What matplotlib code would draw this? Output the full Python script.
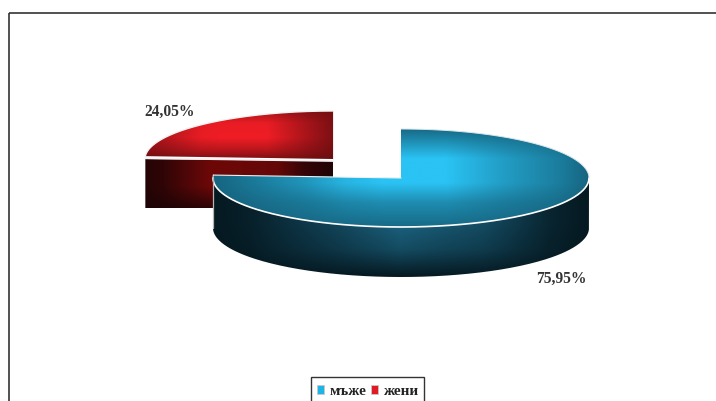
import numpy as np
import matplotlib
matplotlib.use('Agg')
import matplotlib.pyplot as plt
from matplotlib.patches import Patch, PathPatch, Rectangle
from matplotlib.path import Path

categories = ['мъже', 'жени']
shares = [75.95, 24.05]
label_text = ['75,95%', '24,05%']

legend_colors = ['#1FB4E6', '#E01B24']

W, H = 716, 401
RX, RY, DEPTH = 188, 49, 50

plt.rcParams['font.family'] = ['Liberation Serif', 'DejaVu Serif']

fig = plt.figure(figsize=(W / 100, H / 100), dpi=100)
ax = fig.add_axes([0, 0, 1, 1])
ax.set_xlim(0, W)
ax.set_ylim(H, 0)
ax.axis('off')


def rim(cx, cy, rx, ry, a0, a1, n=200):
    # angles in degrees, counter clockwise on screen
    t = np.radians(np.linspace(a0, a1, n))
    return np.column_stack([cx + rx * np.cos(t), cy - ry * np.sin(t)])


def shade(poly, dark, bright, xs, ys, zorder, low=0.0):
    # paint a gradient (across * along) and clip it to poly
    dark = np.array(matplotlib.colors.to_rgb(dark))
    bright = np.array(matplotlib.colors.to_rgb(bright))
    x0, y0 = poly.min(axis=0)
    x1, y1 = poly.max(axis=0)
    u = np.linspace(0, 1, 300)
    v = np.linspace(0, 1, 200)
    fx = np.interp(u, xs[0], xs[1])
    fy = np.interp(v, ys[0], ys[1])
    k = np.clip(np.outer(fy, fx), low, 1)[..., None]
    img = dark + (bright - dark) * k
    im = ax.imshow(img, extent=(x0, x1, y1, y0), origin='upper', aspect='auto',
                   zorder=zorder, interpolation='bilinear')
    clip = PathPatch(Path(np.vstack([poly, poly[:1]])), transform=ax.transData,
                     fc='none', ec='none')
    ax.add_patch(clip)
    im.set_clip_path(clip)


def outline(pts, zorder, lw=1.1, color='#f2f2f2'):
    ax.plot(pts[:, 0], pts[:, 1], color=color, lw=lw, zorder=zorder, solid_capstyle='round')


# slice angles come from the values, first slice starts at 12 o'clock and goes clockwise
sweep_blue = 360 * shares[0] / sum(shares)
end_blue = 90 - sweep_blue
sweep_red = 360 * shares[1] / sum(shares)

# ---- red slice, pulled out to the upper left
rc = (333, 159)
red_rim = rim(rc[0], rc[1], RX, RY - 1, 90, 90 + sweep_red)
cut_left = red_rim[-1]
apex = np.array(rc, dtype=float)
wall = np.array([cut_left + [0, 3], apex + [0, 2], apex + [0, 49], cut_left + [0, 52]])
shade(wall, '#1c0406', '#6e0808',
      ([0, 0.1, 0.35, 0.7, 0.85, 1], [0.1, 0.25, 1, 0.9, 0.3, 0.05]),
      ([0, 0.55, 1], [1, 1, 0.2]), 2)
outline(np.array([cut_left + [0, 2], apex + [0, 2]]), 3, lw=1.3)

red_top = np.vstack([red_rim, apex])
shade(red_top, '#6a0d10', '#F01D25',
      ([0, 0.1, 0.3, 0.4, 0.65, 0.85, 1], [0.35, 0.55, 0.95, 1, 1, 0.5, 0.15]),
      ([0, 0.25, 0.55, 0.8, 1], [0.45, 0.95, 1, 0.6, 0.15]), 4)
outline(red_rim, 5, lw=1.0)
outline(np.array([red_rim[0], apex]), 5, lw=0.5, color='#e8e8e8')

# ---- blue slice
bc = (401, 178)
front_top = rim(bc[0], bc[1], RX, RY, 180, 360)
front_bot = front_top[::-1] + [0, DEPTH]
shade(np.vstack([front_top, front_bot]), '#04151c', '#1B6380',
      ([0, 0.1, 0.3, 0.5, 0.72, 0.9, 1], [0.05, 0.15, 0.55, 1, 0.7, 0.2, 0.05]),
      ([0, 0.45, 0.72, 1], [1, 1, 0.7, 0.05]), 6)

blue_rim = rim(bc[0], bc[1], RX, RY, 90, 90 - sweep_blue)
blue_top = np.vstack([blue_rim, bc])
shade(blue_top, '#15607A', '#2AC3F4',
      ([0, 0.08, 0.25, 0.35, 0.45, 0.62, 0.7, 0.78, 0.92, 1],
       [0.05, 0.2, 0.55, 0.85, 1, 1, 0.8, 0.6, 0.3, 0.05]),
      ([0, 0.12, 0.3, 0.55, 0.75, 1], [0.1, 0.45, 1, 1, 0.45, 0.1]), 7)
outline(rim(bc[0], bc[1], RX, RY, 180, 360), 8, lw=1.2, color='#ffffff')
outline(rim(bc[0], bc[1], RX, RY, 0, 90), 8, lw=0.7, color='#d9e6ea')
outline(rim(bc[0], bc[1], RX, RY, 180, 90 - sweep_blue + 360), 8, lw=0.8, color='#d0d0d0')
outline(np.array([blue_rim[-1], bc]), 8, lw=0.8, color='#f0f0f0')
outline(np.array([[bc[0] - RX, bc[1]], [bc[0] - RX, bc[1] + DEPTH]]), 8, lw=0.9, color='#b5b5b5')

# ---- labels
ax.text(561, 279, label_text[0], ha='center', va='center', fontsize=11.2,
        fontweight='bold', color='#333333', zorder=10)
ax.text(170, 112, label_text[1], ha='center', va='center', fontsize=11.2,
        fontweight='bold', color='#333333', zorder=10)

# ---- outer frame, runs off the right and bottom edge
ax.add_patch(Rectangle((8.5, 13), W, H, fc='none', ec='#333333', lw=1.2, zorder=1))

# ---- legend box is drawn apart so the text can sit low, the picture cuts it off
ax.add_patch(Rectangle((311, 377), 113, 40, fc='white', ec='#333333', lw=1.0, zorder=11))
handles = [Patch(fc=c, ec='#c8c8c8', lw=0.6, label=n) for c, n in zip(legend_colors, categories)]
leg = ax.legend(handles=handles, loc='upper left', bbox_to_anchor=(317 / W, 1 - 385 / H),
                bbox_transform=ax.transAxes, ncol=2, frameon=False, borderaxespad=0, borderpad=0,
                handlelength=0.45, handleheight=0.45, handletextpad=0.38, columnspacing=0.32,
                prop={'family': 'Liberation Serif', 'weight': 'bold', 'size': 11})
leg.set_zorder(12)
for t in leg.get_texts():
    t.set_color('#222222')

fig.savefig('out.png', dpi=100)
